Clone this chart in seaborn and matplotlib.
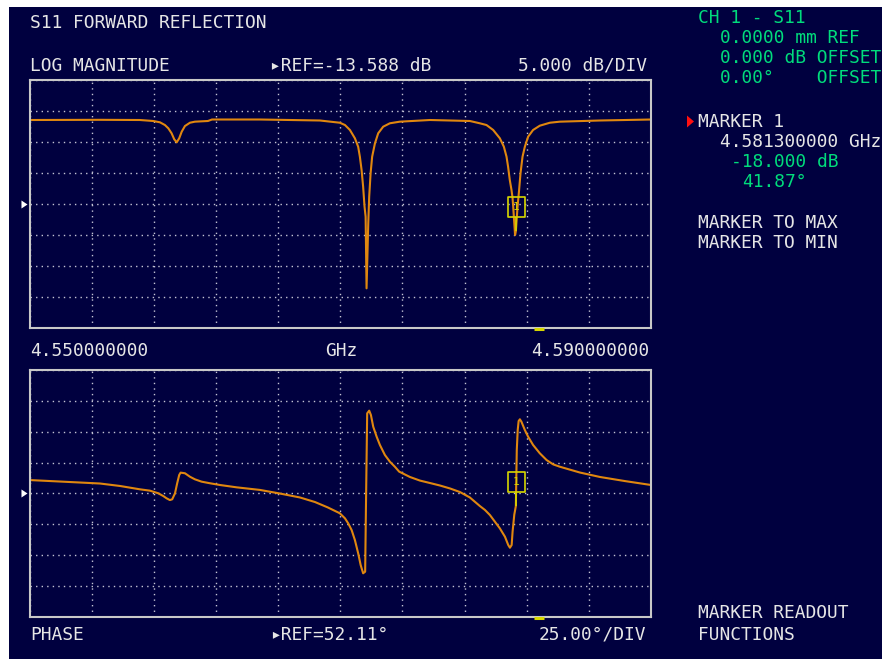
import numpy as np
import matplotlib
matplotlib.use("Agg")
import matplotlib.pyplot as plt
import matplotlib.transforms as mtransforms
from matplotlib.path import Path
from matplotlib.patches import Rectangle
from matplotlib.lines import Line2D
import seaborn as sns

# ---------------- data ----------------
f_start, f_stop = 4.55, 4.59          # GHz
mag_ref, mag_div = -13.588, 5.0       # dB
phase_ref, phase_div = 52.11, 25.0    # deg
n_xdiv, n_ydiv = 10, 8

mag_freq = [4.55000, 4.55453, 4.55710, 4.55796, 4.55839, 4.55871, 4.55893, 4.55914,
            4.55931, 4.55947, 4.55963, 4.55979, 4.56000, 4.56032, 4.56064, 4.56148,
            4.56174, 4.56483, 4.56869,
            4.56997, 4.57030, 4.57062, 4.57094, 4.57115, 4.57126, 4.57137, 4.57147,
            4.57156, 4.57163, 4.57169, 4.57180, 4.57186, 4.57195, 4.57205, 4.57223,
            4.57244, 4.57276, 4.57319, 4.57383,
            4.57577, 4.57834,
            4.57898, 4.57941, 4.57984, 4.58027, 4.58053, 4.58070, 4.58080, 4.58091,
            4.58102, 4.58109, 4.58113, 4.58125, 4.58130, 4.58141, 4.58151, 4.58160,
            4.58173, 4.58188, 4.58209, 4.58241, 4.58284, 4.58349, 4.58413,
            4.58671, 4.59000]
mag_db = [-0.04, -0.01, -0.04, -0.20, -0.41, -0.85, -1.38, -2.18,
          -3.15, -3.64, -2.99, -1.93, -1.01, -0.48, -0.31, -0.20,
          0.04, 0.04, -0.12,
          -0.48, -0.85, -1.65, -2.99, -4.35, -5.96, -8.10, -10.80,
          -14.02, -15.64, -27.19, -16.70, -12.41, -8.64, -5.96, -3.80,
          -2.18, -1.12, -0.57, -0.31,
          -0.04, -0.20,
          -0.57, -0.85, -1.65, -2.99, -4.35, -5.96, -7.57, -9.72,
          -11.33, -12.67, -14.02, -18.59, -18.00, -14.02, -11.33, -8.64,
          -5.96, -4.35, -2.73, -1.65, -0.96, -0.48, -0.31,
          -0.12, 0.04]

phase_freq = [4.55000, 4.55196, 4.55453, 4.55582, 4.55710, 4.55775, 4.55828, 4.55860,
              4.55882, 4.55903, 4.55918, 4.55936, 4.55950, 4.55963, 4.55972, 4.56000,
              4.56032, 4.56064, 4.56107, 4.56161, 4.56225, 4.56333, 4.56483, 4.56611,
              4.56740, 4.56837, 4.56920, 4.56997, 4.57030, 4.57051, 4.57073, 4.57094,
              4.57115, 4.57131, 4.57147, 4.57160, 4.57165, 4.57173, 4.57186, 4.57197,
              4.57212, 4.57234, 4.57255, 4.57287, 4.57319, 4.57351, 4.57379, 4.57448,
              4.57512, 4.57577, 4.57641, 4.57706, 4.57770, 4.57834, 4.57898, 4.57931,
              4.57963, 4.57995, 4.58027, 4.58060, 4.58081, 4.58092, 4.58103, 4.58109,
              4.58120, 4.58130, 4.58136, 4.58142, 4.58148, 4.58156, 4.58166, 4.58188,
              4.58209, 4.58241, 4.58284, 4.58328, 4.58370, 4.58413, 4.58542, 4.58671,
              4.58831, 4.59000]
phase_deg = [63.0, 61.8, 60.2, 58.2, 55.5, 54.4, 52.3, 50.1,
             48.2, 46.8, 47.4, 52.3, 60.4, 67.1, 69.0, 68.5,
             65.7, 63.6, 61.7, 60.4, 59.0, 57.1, 55.0, 52.1,
             48.9, 45.2, 40.8, 36.1, 32.0, 27.9, 22.5, 14.4,
             3.7, -5.8, -12.5, -11.2, 40.1, 117.0, 119.2, 115.7,
             106.2, 98.1, 91.4, 83.3, 77.9, 73.8, 69.8, 65.5,
             62.6, 60.6, 58.6, 56.2, 53.3, 48.9, 42.0, 38.8,
             34.7, 29.3, 23.9, 17.1, 10.4, 8.2, 10.4, 21.2,
             35.0, 41.87, 87.3, 103.5, 110.8, 112.2, 110.2, 103.5,
             98.1, 91.4, 84.7, 79.2, 75.7, 73.8, 69.1, 65.5,
             62.2, 59.0]

marker_freq = 4.5813
marker_db = -18.000
marker_deg = 41.87
stim_freq = 4.5828

# ---------------- style ----------------
NAVY = '#00003f'
TRACE = '#e0870f'
GRID = '#c4c4d4'
FRAME = '#c8c8c8'
WHITE = '#e6e6e6'
GREEN = '#00dc7c'
YELLOW = '#d6d600'
FONT = ['DejaVu Sans Mono', 'DejaVu Sans']
FS = 12.9

sns.set_style("dark")
plt.rcParams['font.family'] = FONT

W, H = 882, 659
fig = plt.figure(figsize=(W / 100, H / 100), dpi=100, facecolor='white')
fig.patches.append(Rectangle((9 / W, 0), 1, 1 - 7 / H, transform=fig.transFigure,
                             facecolor=NAVY, edgecolor='none', zorder=-10))


def ax_rect(l, t, r, b):
    return [l / W, 1 - b / H, (r - l) / W, (b - t) / H]


ax1 = fig.add_axes(ax_rect(29.6, 80, 651, 328))
ax2 = fig.add_axes(ax_rect(29.6, 370, 651, 617))

sns.lineplot(x=mag_freq, y=mag_db, ax=ax1, color=TRACE, linewidth=1.5,
             estimator=None, sort=False, zorder=3)
sns.lineplot(x=phase_freq, y=phase_deg, ax=ax2, color=TRACE, linewidth=1.5,
             estimator=None, sort=False, zorder=3)


def setup(ax, ref, div):
    ax.set_facecolor(NAVY)
    lo, hi = ref - div * n_ydiv / 2, ref + div * n_ydiv / 2
    ax.set_xlim(f_start, f_stop)
    ax.set_ylim(lo, hi)
    ax.set_xticks(np.linspace(f_start, f_stop, n_xdiv + 1))
    ax.set_yticks(np.linspace(lo, hi, n_ydiv + 1))
    ax.tick_params(length=0, labelbottom=False, labelleft=False)
    ax.grid(True, color=GRID, linestyle=(0, (1, 3)), linewidth=1.0, zorder=1)
    ax.set_axisbelow(True)
    ax.set_xlabel('')
    ax.set_ylabel('')
    for s in ax.spines.values():
        s.set_visible(True)
        s.set_color(FRAME)
        s.set_linewidth(1.5)
        s.set_zorder(4)
    # reference-level arrow at the left
    tr = mtransforms.blended_transform_factory(ax.transAxes, ax.transData)
    ax.plot([-0.0085], [ref], transform=tr, clip_on=False, linestyle='none',
            marker=[(-1, -1.33), (1, 0), (-1, 1.33)], markersize=5.8,
            color='white', markeredgewidth=0)
    # stimulus indicator on bottom frame
    trb = mtransforms.blended_transform_factory(ax.transData, ax.transAxes)
    ax.plot([stim_freq - 0.0003, stim_freq + 0.0003], [-0.006, -0.006], transform=trb,
            color=YELLOW, linewidth=2.2, clip_on=False, solid_capstyle='butt', zorder=5)


setup(ax1, mag_ref, mag_div)
setup(ax2, phase_ref, phase_div)

# marker symbol: stem + box above the point
verts = [(0, 0), (0, 14.25), (-8.5, 14.25), (8.5, 14.25), (8.5, 33.75), (-8.5, 33.75), (-8.5, 14.25)]
codes = [Path.MOVETO, Path.LINETO, Path.MOVETO, Path.LINETO, Path.LINETO, Path.LINETO, Path.CLOSEPOLY]
mpath = Path(verts, codes)
for ax, val in ((ax1, marker_db), (ax2, marker_deg)):
    ax.plot([marker_freq], [val], linestyle='none', marker=mpath,
            markersize=67.5 * 0.72, markerfacecolor='none', markeredgecolor=YELLOW,
            markeredgewidth=1.2, zorder=6, clip_on=False)
    ax.annotate('1', xy=(marker_freq, val), xytext=(0, 24 * 0.72), textcoords='offset points',
                ha='center', va='center', color=YELLOW, fontsize=8, family=FONT, zorder=7)


def t(x, ybase, s, color=WHITE, ha='left'):
    fig.text(x / W, 1 - ybase / H, s, color=color, ha=ha, va='baseline',
             fontsize=FS, family=FONT)


t(30, 28.5, "S11 FORWARD REFLECTION")
t(30, 71, "LOG MAGNITUDE")
t(270, 71, f"▸REF={mag_ref:.3f} dB")
t(647, 71, f"{mag_div:.3f} dB/DIV", ha='right')
t(698, 23.3, "CH 1 - S11", GREEN)
t(720, 43.3, "0.0000 mm REF", GREEN)
t(720, 63.3, "0.000 dB OFFSET", GREEN)
t(720, 83.3, "0.00°    OFFSET", GREEN)
t(698, 126.7, "MARKER 1")
t(720, 146.7, f"{marker_freq:.9f} GHz")
t(731, 166.7, f"{marker_db:.3f} dB", GREEN)
t(742, 186.7, f"{marker_deg:.2f}°", GREEN)
t(698, 228.3, "MARKER TO MAX")
t(698, 248.3, "MARKER TO MIN")
t(30, 356, f"{f_start:.9f}")
t(325, 356, "GHz")
t(649, 356, f"{f_stop:.9f}", ha='right')
t(30, 639.5, "PHASE")
t(270, 639.5, f"▸REF={phase_ref:.2f}°")
t(646, 639.5, f"{phase_div:.2f}°/DIV", ha='right')
t(698, 617.5, "MARKER READOUT")
t(698, 639.5, "FUNCTIONS")

# red active-marker pointer
fig.add_artist(Line2D([689.5 / W], [1 - 120.5 / H], transform=fig.transFigure,
                      marker=[(-1, -1.7), (1, 0), (-1, 1.7)], markersize=8.6,
                      color='#ff1010', markeredgewidth=0, linestyle='none'))

fig.savefig("out.png", dpi=100, facecolor=fig.get_facecolor())
